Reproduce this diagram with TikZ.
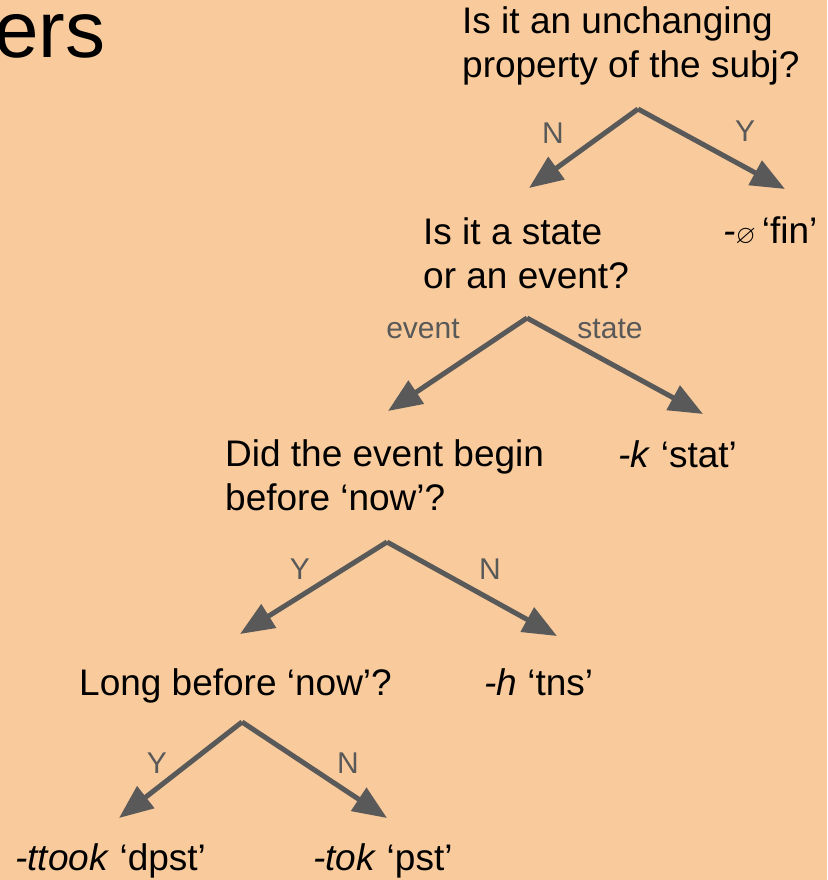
\documentclass[tikz,border=0pt]{standalone}
\usepackage{fontspec}
\usepackage{amssymb}
\setmainfont{Liberation Sans}
\usetikzlibrary{arrows.meta}
\definecolor{bg}{HTML}{F9CB9C}
\definecolor{ink}{HTML}{595959}
\begin{document}
\begin{tikzpicture}[x=1pt,y=-1pt,
  q/.style={anchor=base west, align=left, inner sep=0pt, font=\fontsize{37}{44}\selectfont, text=black},
  leaf/.style={anchor=base west, inner sep=0pt, font=\fontsize{37}{44}\selectfont, text=black},
  lab/.style={anchor=base, inner sep=0pt, font=\fontsize{30}{36}\selectfont, text=ink},
  branch/.style={draw=ink, line width=5pt, -{Triangle[length=34pt,width=27pt]}},
]
\fill[bg] (0,0) rectangle (827,880);
\useasboundingbox (0,0) rectangle (827,880);

\node[anchor=base west, inner sep=0pt, font=\fontsize{80}{88}\selectfont] (title) at (-6,58) {ers};

% questions (base anchor = baseline of last line)
\node[q] (q1) at (462,78) {Is it an unchanging\\property of the subj?};
\node[q] (q2) at (423,288) {Is it a state\\or an event?};
\node[q] (q3) at (225,510) {Did the event begin\\before ‘now’?};
\node[q] (q4) at (79,695) {Long before ‘now’?};

% leaves
\node[leaf] (fin) at (723,243) {\textit{-}{\fontsize{26}{26}\selectfont$\varnothing$}\,‘fin’};
\node[leaf] (stat) at (618,467) {\textit{-k} ‘stat’};
\node[leaf] (tns) at (484,695) {\textit{-h} ‘tns’};
\node[leaf] (dpst) at (15,870) {\textit{-ttook} ‘dpst’};
\node[leaf] (pst) at (313,870) {\textit{-tok} ‘pst’};

% branch points
\coordinate (a1) at (638,109); \coordinate (t1l) at (529,188); \coordinate (t1r) at (785,189);
\coordinate (a2) at (527,318); \coordinate (t2l) at (388,411); \coordinate (t2r) at (703,414);
\coordinate (a3) at (387,542); \coordinate (t3l) at (240,634); \coordinate (t3r) at (557,636);
\coordinate (a4) at (242,722); \coordinate (t4l) at (119,818); \coordinate (t4r) at (387,818);

\draw[branch] (a1) -- (t1l);
\draw[branch] (a1) -- (t1r);
\draw[branch] (a2) -- (t2l);
\draw[branch] (a2) -- (t2r);
\draw[branch] (a3) -- (t3l);
\draw[branch] (a3) -- (t3r);
\draw[branch] (a4) -- (t4l);
\draw[branch] (a4) -- (t4r);

% labels
\node[lab] (l1n) at (553,143) {N};
\node[lab] (l1y) at (745,142) {Y};
\node[lab] (l2e) at (423,338) {event};
\node[lab] (l2s) at (610,338) {state};
\node[lab] (l3y) at (300,579) {Y};
\node[lab] (l3n) at (490,579) {N};
\node[lab] (l4y) at (157,773) {Y};
\node[lab] (l4n) at (348,773) {N};
\end{tikzpicture}
\end{document}
